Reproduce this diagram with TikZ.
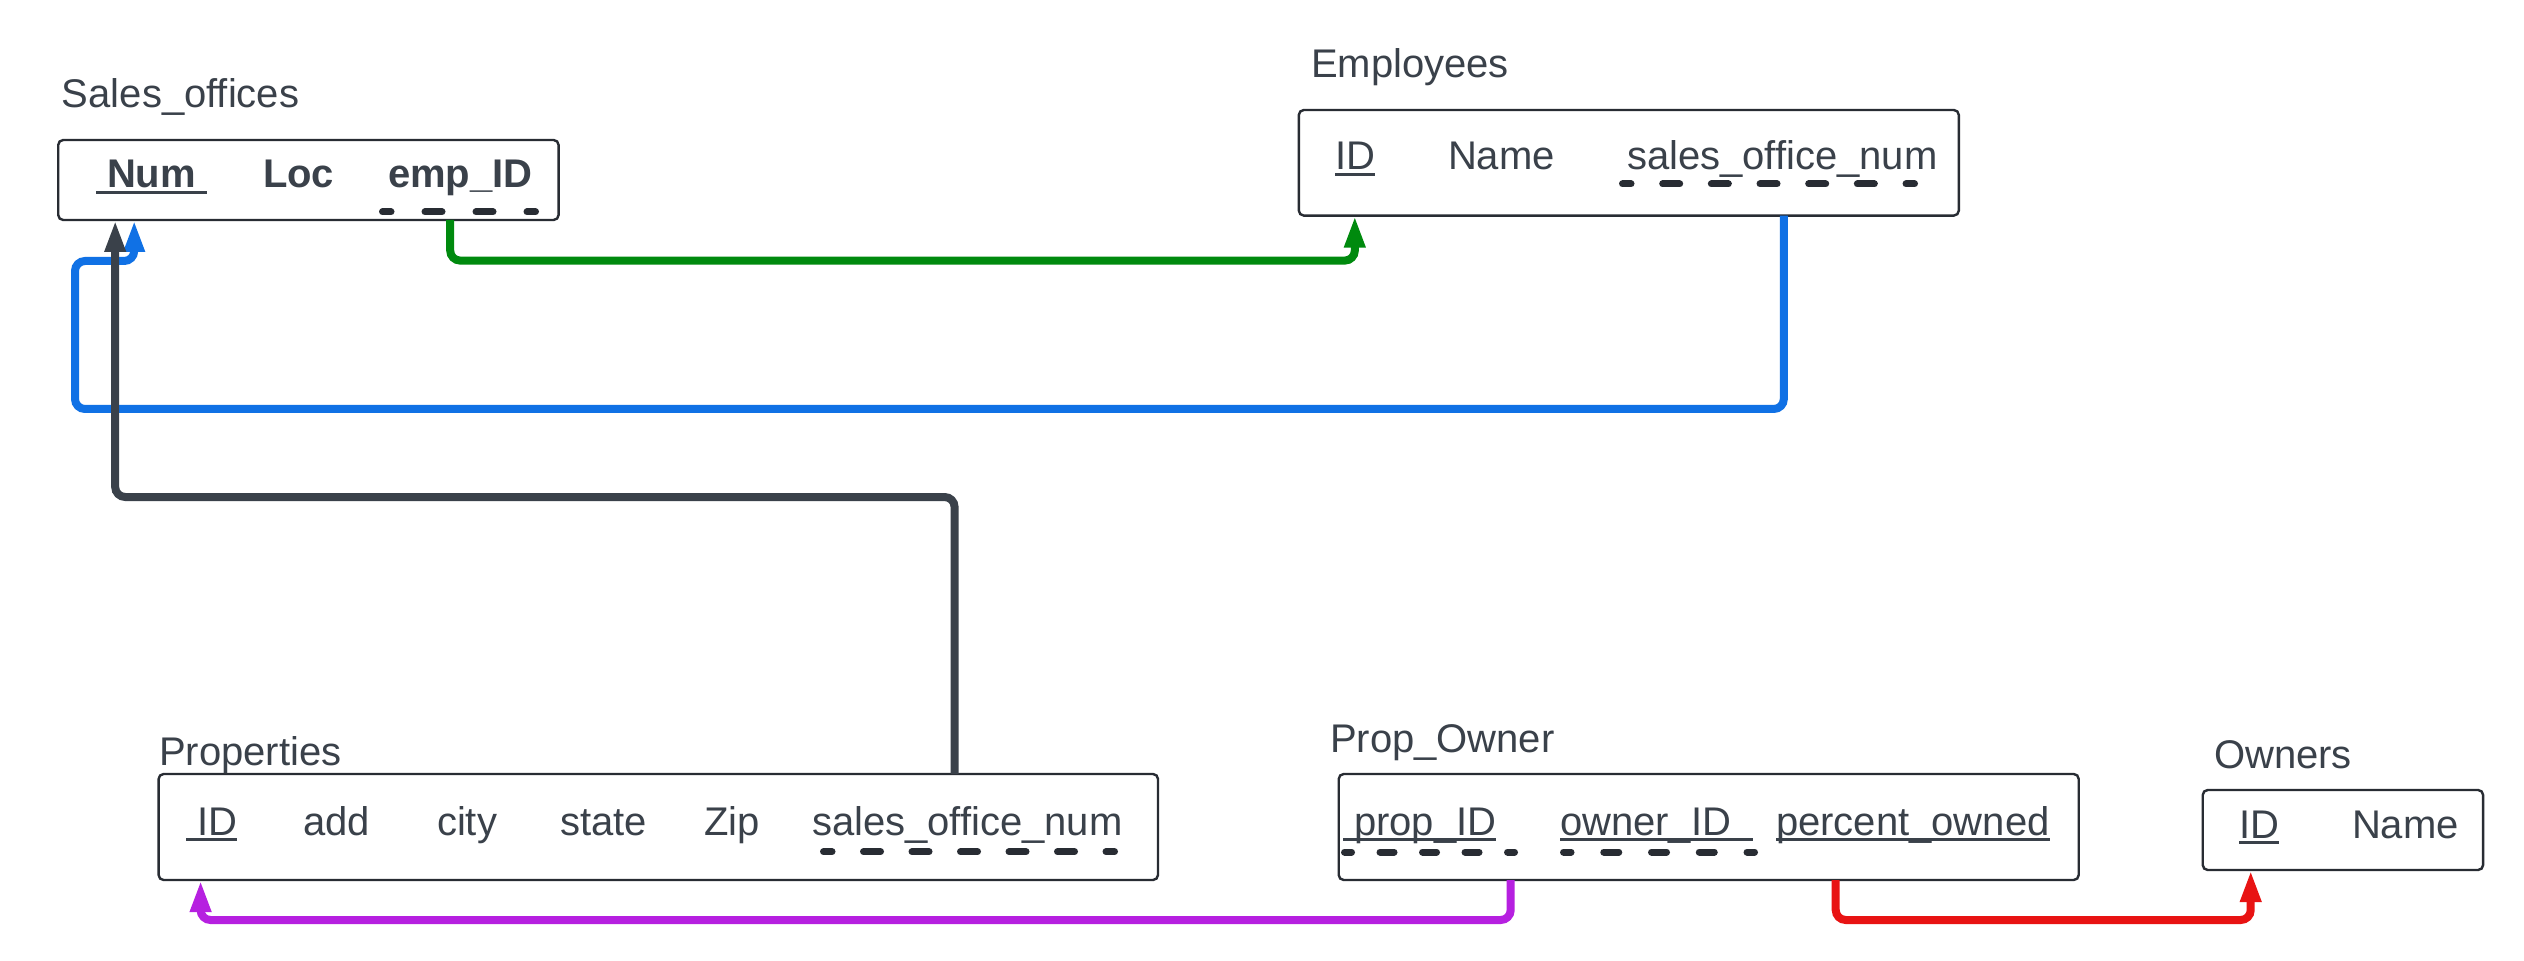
\documentclass[tikz,border=0pt]{standalone}
\usepackage{fontspec}
\setmainfont{Liberation Sans}
\usetikzlibrary{arrows.meta,calc}
\definecolor{txt}{HTML}{3A414A}
\definecolor{bord}{HTML}{282C33}
\definecolor{lgreen}{HTML}{008A0E}
\definecolor{lblue}{HTML}{1071E5}
\definecolor{lpurple}{HTML}{B620E0}
\definecolor{lred}{HTML}{E81313}
\definecolor{ldark}{HTML}{3A414A}
\newsavebox\ulbox
\newcommand\myul[1]{\sbox\ulbox{#1}\rlap{\rule[-1.4pt]{\wd\ulbox}{0.6pt}}\usebox\ulbox}
\tikzset{
  tbox/.style={draw=bord, line width=0.6pt, rounded corners=1.25pt, inner sep=0pt, outer sep=0pt, anchor=north west},
  ttl/.style={anchor=base west, inner sep=0pt, outer sep=0pt, text=txt, font=\fontsize{10}{12}\selectfont},
  fld/.style={ttl},
  bfld/.style={ttl, font=\fontsize{10}{12}\selectfont\bfseries},
  conn/.style={line width=2pt, rounded corners=2.5pt, -{Triangle[length=8pt,width=4.85pt]}},
  fk/.style={draw=bord, line width=1.75pt, line cap=round}
}
\begin{document}
\begin{tikzpicture}[x=0.25pt, y=-0.25pt]
\fill[white] (0,0) rectangle (2524,961);
\useasboundingbox (0,0) rectangle (2524,961);

% boxes
\node[tbox, minimum width=125.1pt, minimum height=20pt] (so) at (58.2,140) {};
\node[tbox, minimum width=165pt, minimum height=26.4pt] (emp) at (1298.8,110) {};
\node[tbox, minimum width=249.85pt, minimum height=26.5pt] (prop) at (158.6,774) {};
\node[tbox, minimum width=185pt, minimum height=26.5pt] (po) at (1338.7,774) {};
\node[tbox, minimum width=70.1pt, minimum height=20pt] (own) at (2202.7,790) {};

% titles
\node[ttl] (tso) at (62,108) {Sales\_offices};
\node[ttl] (temp) at (1311,78) {Employees};
\node[ttl] (tprop) at (159,765) {Properties};
\node[ttl] (tpo) at (1330,752) {Prop\_Owner};
\node[ttl] (town) at (2214,768) {Owners};

% Sales_offices fields
\node[bfld] (fnum) at (96,188) {\myul{\ Num\ }};
\node[bfld] (floc) at (263,188) {Loc};
\node[bfld] (fempid) at (388,188) {emp\_ID};
\draw[fk, dash pattern=on 4.25pt off 8.5pt, dash phase=2.125pt] (382.5,212) -- (535.5,212);

% Employees fields
\node[fld] (eid) at (1335,170) {\myul{ID}};
\node[fld] (ename) at (1448,170) {Name};
\node[fld] (eso) at (1627,170) {sales\_office\_num};
\draw[fk, dash pattern=on 4.25pt off 7.9167pt, dash phase=2.125pt] (1622.5,184) -- (1914.5,184);

% Properties fields
\node[fld] (pid) at (186,835) {\myul{\ ID}};
\node[fld] (padd) at (303,835) {add};
\node[fld] (pcity) at (437,835) {city};
\node[fld] (pstate) at (560,835) {state};
\node[fld] (pzip) at (704,835) {Zip};
\node[fld] (pso) at (812,835) {sales\_office\_num};
\draw[fk, dash pattern=on 4.25pt off 7.875pt, dash phase=2.125pt] (823.5,851.7) -- (1114.5,851.7);

% Prop_Owner fields
\node[fld] (poprop) at (1343,835) {\myul{\ prop\_ID}};
\node[fld] (poown) at (1560,835) {\myul{owner\_ID\ \ }};
\node[fld] (popct) at (1776,835) {\myul{percent\_owned}};
\draw[fk, dash pattern=on 3.5pt off 7.125pt, dash phase=1.75pt] (1344.5,852) -- (1514.5,852);
\draw[fk, dash pattern=on 3.75pt off 8.1875pt, dash phase=1.875pt] (1563.5,852) -- (1754.5,852);

% Owners fields
\node[fld] (oid) at (2239,838) {\myul{ID}};
\node[fld] (oname) at (2352,838) {Name};

% connectors
\draw[conn, lgreen] ($(so.south west)+(392,0)$) |- ($(emp.south west)+(56,45)$) -- ($(emp.south west)+(56,0)$);
\draw[conn, lblue] ($(emp.south west)+(485,0)$) |- (75,409) |- ($(so.south west)+(76,41)$) -- ($(so.south west)+(76,0)$);
\draw[conn, ldark] ($(prop.north west)+(796,0)$) |- ($(so.south west)+(57,277)$) -- ($(so.south west)+(57,0)$);
\draw[conn, lpurple] ($(po.south west)+(172,0)$) |- ($(prop.south west)+(42,40)$) -- ($(prop.south west)+(42,0)$);
\draw[conn, lred] ($(po.south west)+(497,0)$) |- ($(own.south west)+(48,50)$) -- ($(own.south west)+(48,0)$);
\end{tikzpicture}
\end{document}
